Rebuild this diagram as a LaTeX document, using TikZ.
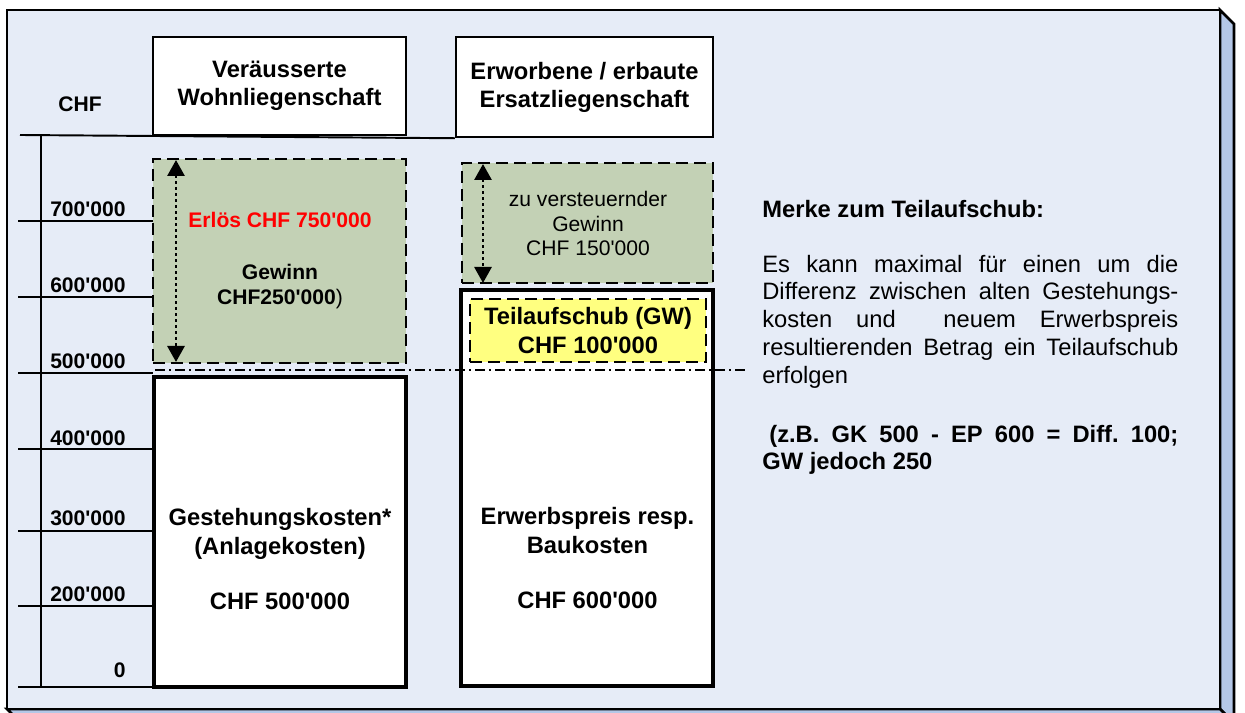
\documentclass[tikz,border=0pt]{standalone}
\usepackage{fontspec}
\setmainfont{Liberation Sans}[Ligatures=TeXOff]
\usepackage{tikz}
\usetikzlibrary{arrows.meta}

\definecolor{frontblue}{RGB}{230,236,247}
\definecolor{sideblue}{RGB}{180,199,231}
\definecolor{gaingreen}{RGB}{195,209,181}
\definecolor{deferyellow}{RGB}{255,255,128}

\frenchspacing

\begin{document}
\begin{tikzpicture}[
  x=0.2mm, y=-0.2mm,
  % boxes
  headbox/.style={draw=black,line width=1.4pt,fill=white,align=center,
    font=\fontsize{13.5}{16}\selectfont\bfseries},
  gainbox/.style={draw=black,line width=0.85pt,fill=gaingreen,
    dash pattern=on 2.4mm off 1.2mm},
  costbox/.style={draw=black,line width=2.3pt,fill=white},
  deferbox/.style={draw=black,line width=0.85pt,fill=deferyellow,
    dash pattern=on 2.4mm off 1.2mm,align=center,
    font=\fontsize{13.5}{16.5}\selectfont\bfseries},
  % lines
  axisline/.style={draw=black,line width=1.1pt},
  refline/.style={draw=black,line width=0.85pt,
    dash pattern=on 2mm off 0.8mm on 0.4mm off 0.8mm},
  spanarrow/.style={draw=black,line width=1.6pt,dash pattern=on 0.6mm off 0.6mm,
    {Triangle[width=3.4mm,length=3.2mm]}-{Triangle[width=3.4mm,length=3.2mm]}},
  % texts
  axislabel/.style={inner sep=0pt,font=\fontsize{12}{14}\selectfont\bfseries},
  smalltext/.style={align=center,font=\fontsize{12}{14.2}\selectfont},
  bigtext/.style={align=center,font=\fontsize{13.5}{16.5}\selectfont\bfseries},
  notetext/.style={inner sep=0pt,text width=83.2mm,align=justify,
    font=\fontsize{13.5}{15.9}\selectfont}
]
\useasboundingbox (0,0) rectangle (1245,713);

% frame
\filldraw[fill=sideblue,draw=black,line width=1.5pt]
  (1220,10) -- (1234,24) -- (1234,723) -- (1220,709) -- cycle;
\filldraw[fill=sideblue,draw=black,line width=1.5pt]
  (7,709) -- (1220,709) -- (1234,723) -- (21,723) -- cycle;
\filldraw[fill=frontblue,draw=black,line width=1.5pt] (7,10) rectangle (1220,709);

% headers
\node[headbox,minimum width=50.6mm,minimum height=19.6mm] (head1) at (279.5,86)
  {Veräusserte\\Wohnliegenschaft};
\node[headbox,minimum width=51.4mm,minimum height=20mm] (head2) at (584.5,87)
  {Erworbene / erbaute\\Ersatzliegenschaft};

% axis
\coordinate (ytop) at (20,135);
\coordinate (axtop) at (41,135);
\coordinate (axbot) at (41,687);
\draw[axisline] (ytop) -- (head2.south west);
\draw[axisline] (axtop) -- (axbot);
\node[axislabel,anchor=base] (chf) at (80,112) {CHF};
\foreach \yy/\bl/\lab [count=\i] in {221/217/700'000, 297/293/600'000,
    373/369/500'000, 449/446/400'000, 531/526/300'000, 606/602/200'000, 687/678/0} {
  \draw[axisline] (18,\yy) -- (153,\yy);
  \node[axislabel,anchor=base east] (tick\i) at (126,\bl) {\lab};
}

% boxes
\node[gainbox,minimum width=50.6mm,minimum height=40.8mm] (gain1) at (279.5,261) {};
\node[gainbox,minimum width=50.2mm,minimum height=24mm] (gain2) at (587.5,223) {};
\node[costbox,minimum width=50.4mm,minimum height=62mm] (cost1) at (280,532) {};
\node[costbox,minimum width=50.4mm,minimum height=79.2mm] (cost2) at (587,488) {};
\node[deferbox,minimum width=47.2mm,minimum height=12.6mm] (defer) at (588,330.5)
  {Teilaufschub (GW)\\CHF 100'000};

% 500'000 line
\coordinate (ref1) at (155,370);
\coordinate (ref2) at (745,370);
\draw[refline] (ref1) -- (ref2);

% spans
\coordinate (span1top) at (176,160);
\coordinate (span1bot) at (176,362);
\coordinate (span2top) at (483,164);
\coordinate (span2bot) at (483,283);
\draw[spanarrow] (span1top) -- (span1bot);
\draw[spanarrow] (span2top) -- (span2bot);

% box texts
\node[smalltext,anchor=base,text=red,font=\fontsize{12}{14.2}\selectfont\bfseries]
  (erloes) at (280,228) {Erlös CHF 750'000};
\node[smalltext] (gewinn1) at (280,287) {{\bfseries Gewinn}\\{\bfseries CHF250'000})};
\node[smalltext] (gewinn2) at (588,223.5) {zu versteuernder\\Gewinn\\CHF 150'000};
\node[bigtext] (alttext) at (280,559)
  {Gestehungskosten*\\(Anlagekosten)\\[15pt]CHF 500'000};
\node[bigtext] (neutext) at (587.5,558)
  {Erwerbspreis resp.\\Baukosten\\[15pt]CHF 600'000};

% note
\node[inner sep=0pt,anchor=base west,font=\fontsize{13.5}{16}\selectfont\bfseries]
  (merke) at (762,218) {Merke zum Teilaufschub:};
\node[notetext,anchor=north west] (merketext) at (762,254.5)
  {\sloppy Es kann maximal für einen um die\linebreak
   Differenz zwischen alten Gestehungs-\linebreak
   kosten und \ neuem Erwerbspreis\linebreak
   resultierenden Betrag ein Teilaufschub\linebreak
   erfolgen};
\node[notetext,anchor=north west,font=\fontsize{13.5}{15.9}\selectfont\bfseries]
  (merkebsp) at (762,424.5)
  {\sloppy\frenchspacing\hspace*{4pt}(z.B. GK 500 - EP 600 = Diff. 100;\linebreak
   GW jedoch 250};

\end{tikzpicture}
\end{document}
